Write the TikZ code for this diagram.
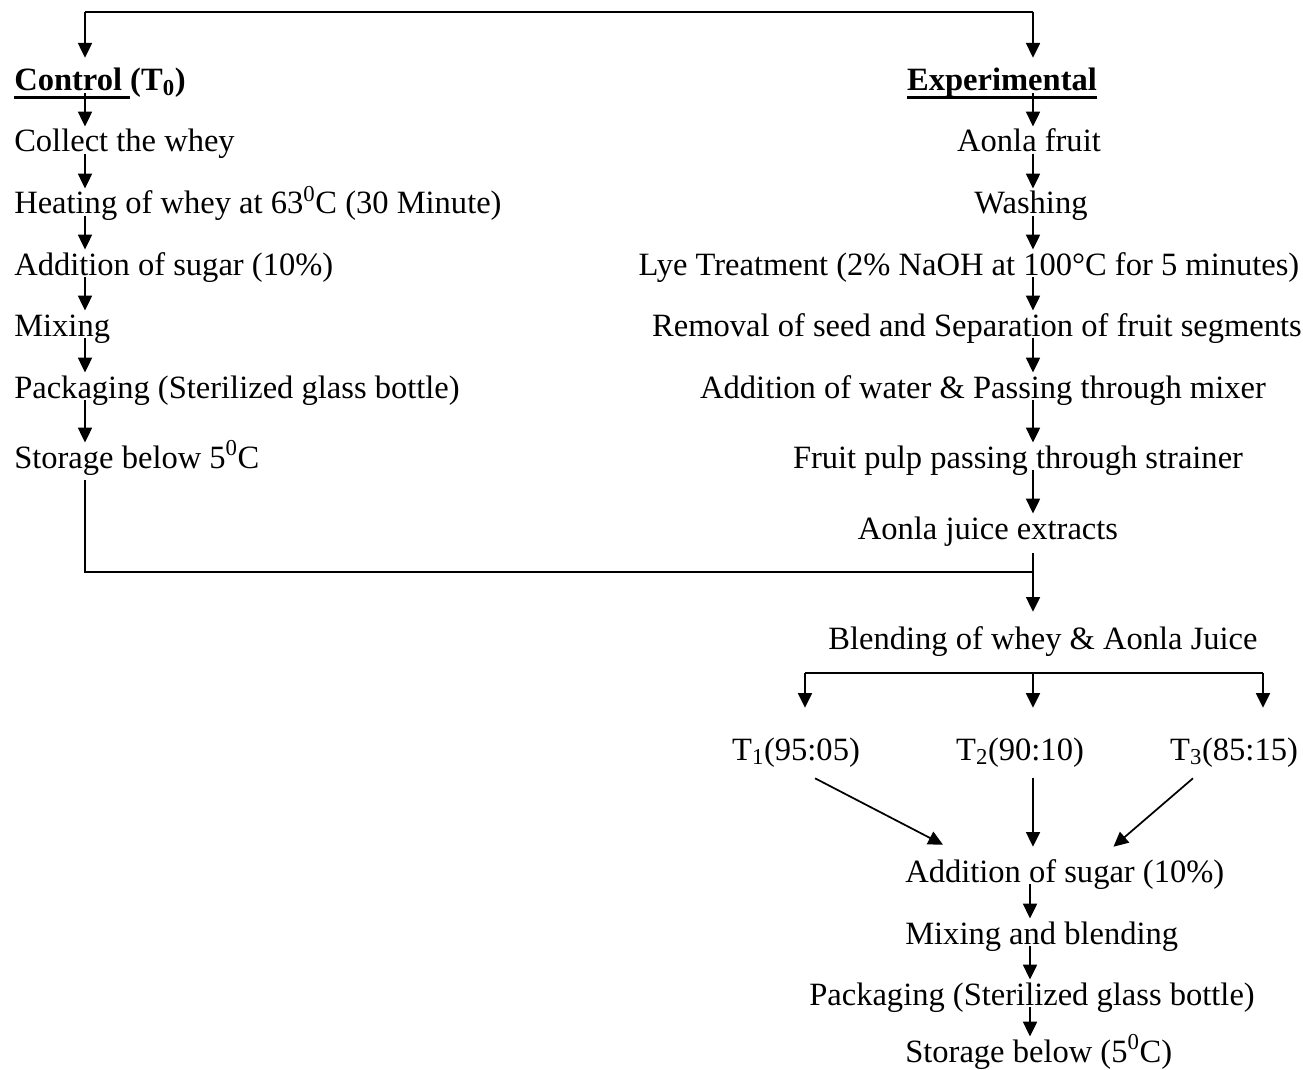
\documentclass[tikz,border=0pt]{standalone}
\usepackage{fontspec}
\setmainfont{Liberation Serif}
\usetikzlibrary{arrows.meta,calc}

% thick underline for the headings
\newcommand\ulthick[1]{\setbox0\hbox{#1}\rlap{\vrule height -3.5pt depth 5.7pt width \wd0}\box0}

\tikzset{
  txt/.style={inner sep=0pt, text height=16pt, text depth=0pt, font=\fontsize{24.4}{29}\selectfont},
  ln/.style={line width=1.3pt},
  arr/.style={line width=1.3pt, -{Triangle[length=11pt,width=10.5pt]}},
}

\begin{document}
\begin{tikzpicture}[x=0.75pt,y=0.75pt,yscale=-1,xscale=1]
        \useasboundingbox [fill=white] (0,0) rectangle (1303,1070);
        % Helper coordinates
        \coordinate (lx) at (85,0);
        \coordinate (rx) at (1033,0);
        \coordinate (bx) at (1030,0);
        \coordinate (topl) at (85,12);
        \coordinate (topr) at (1033,12);
        \coordinate (join) at (1033,572);
        \coordinate (brl) at (805,673);
        \coordinate (brm) at (1033,673);
        \coordinate (brr) at (1263,673);

        % Text Node
        \node [txt, anchor=base west] (ctrl) at (14,91) {\textbf{\ulthick{Control~}(T\textsubscript{0})}};
        % Text Node
        \node [txt, anchor=base west] (collect) at (14,152) {Collect the whey};
        % Text Node
        \node [txt, anchor=base west] (heat) at (14,214) {Heating of whey at 63\textsuperscript{0}C (30 Minute)};
        % Text Node
        \node [txt, anchor=base west] (sugarc) at (14,275) {Addition of sugar (10\%)};
        % Text Node
        \node [txt, anchor=base west] (mixc) at (14,336) {Mixing};
        % Text Node
        \node [txt, anchor=base west] (packc) at (14,398) {Packaging (Sterilized glass bottle)};
        % Text Node
        \node [txt, anchor=base west] (storec) at (14,468) {Storage below 5\textsuperscript{0}C};

        % Text Node
        \node [txt, anchor=base] (expt) at (1002,91) {\textbf{\ulthick{Experimental}}};
        % Text Node
        \node [txt, anchor=base] (fruit) at (1029,152) {Aonla fruit};
        % Text Node
        \node [txt, anchor=base] (wash) at (1031,214) {Washing};
        % Text Node
        \node [txt, anchor=base] (lye) at (969,275) {Lye Treatment (2\% NaOH at 100°C for 5 minutes)};
        % Text Node
        \node [txt, anchor=base] (seed) at (977,336) {Removal of seed and Separation of fruit segments};
        % Text Node
        \node [txt, anchor=base] (water) at (983,398) {Addition of water \& Passing through mixer};
        % Text Node
        \node [txt, anchor=base] (pulp) at (1018,468) {Fruit pulp passing through strainer};
        % Text Node
        \node [txt, anchor=base] (juice) at (988,539) {Aonla juice extracts};
        % Text Node
        \node [txt, anchor=base] (blend) at (1043,649) {Blending of whey \& Aonla Juice};
        % Text Node
        \node [txt, anchor=base] (tone) at (796,760) {T\textsubscript{1}(95:05)};
        % Text Node
        \node [txt, anchor=base] (ttwo) at (1020,760) {T\textsubscript{2}(90:10)};
        % Text Node
        \node [txt, anchor=base] (tthree) at (1234,760) {T\textsubscript{3}(85:15)};
        % Text Node
        \node [txt, anchor=base west] (sugar) at (905,882) {Addition of sugar (10\%)};
        % Text Node
        \node [txt, anchor=base west] (mixb) at (905,944) {Mixing and blending};
        % Text Node
        \node [txt, anchor=base] (pack) at (1032,1005) {Packaging (Sterilized glass bottle)};
        % Text Node
        \node [txt, anchor=base west] (store) at (905,1062) {Storage below (5\textsuperscript{0}C)};

        %Straight Lines
        \draw [ln] (topl) -- (topr);
        \draw [arr, shorten >=8.8pt] (topl) -- (ctrl.north -| topl);
        \draw [arr, shorten >=8.8pt] (topr) -- (expt.north -| topr);

        %Straight Lines
        \foreach \a/\b in {ctrl/collect, collect/heat, heat/sugarc, sugarc/mixc, mixc/packc, packc/storec}
            \draw [arr, shorten <=1.5pt, shorten >=3pt] (\a.south -| lx) -- (\b.north -| lx);
        \foreach \a/\b in {expt/fruit, fruit/wash, wash/lye, lye/seed, seed/water, water/pulp, pulp/juice}
            \draw [arr, shorten <=1.5pt, shorten >=3pt] (\a.south -| rx) -- (\b.north -| rx);

        %Straight Lines
        \draw [ln, shorten <=9pt] (storec.south -| lx) -- (lx |- join) -- (join);
        \draw [arr, shorten <=10.5pt, shorten >=11.8pt] (juice.south -| rx) -- (blend.north -| rx);

        %Straight Lines
        \draw [ln] (brl) -- (brr);
        \foreach \c/\n in {brl/tone, brm/ttwo, brr/tthree}
            \draw [arr, shorten >=23pt] (\c) -- (\n.north -| \c);

        %Straight Lines
        \draw [arr] ([shift={(19,18)}]tone.south) -- ([shift={(38,-15.7)}]sugar.north west);
        \draw [arr, shorten <=13.5pt, shorten >=10.3pt] (ttwo.south -| rx) -- (sugar.north -| rx);
        \draw [arr] ([shift={(-41,18)}]tthree.south) -- ([shift={(-111,-13.7)}]sugar.north east);

        %Straight Lines
        \foreach \a/\b in {sugar/mixb, mixb/pack, pack/store}
            \draw [arr, shorten <=1.5pt, shorten >=3pt] (\a.south -| bx) -- (\b.north -| bx);
    \end{tikzpicture}
\end{document}
